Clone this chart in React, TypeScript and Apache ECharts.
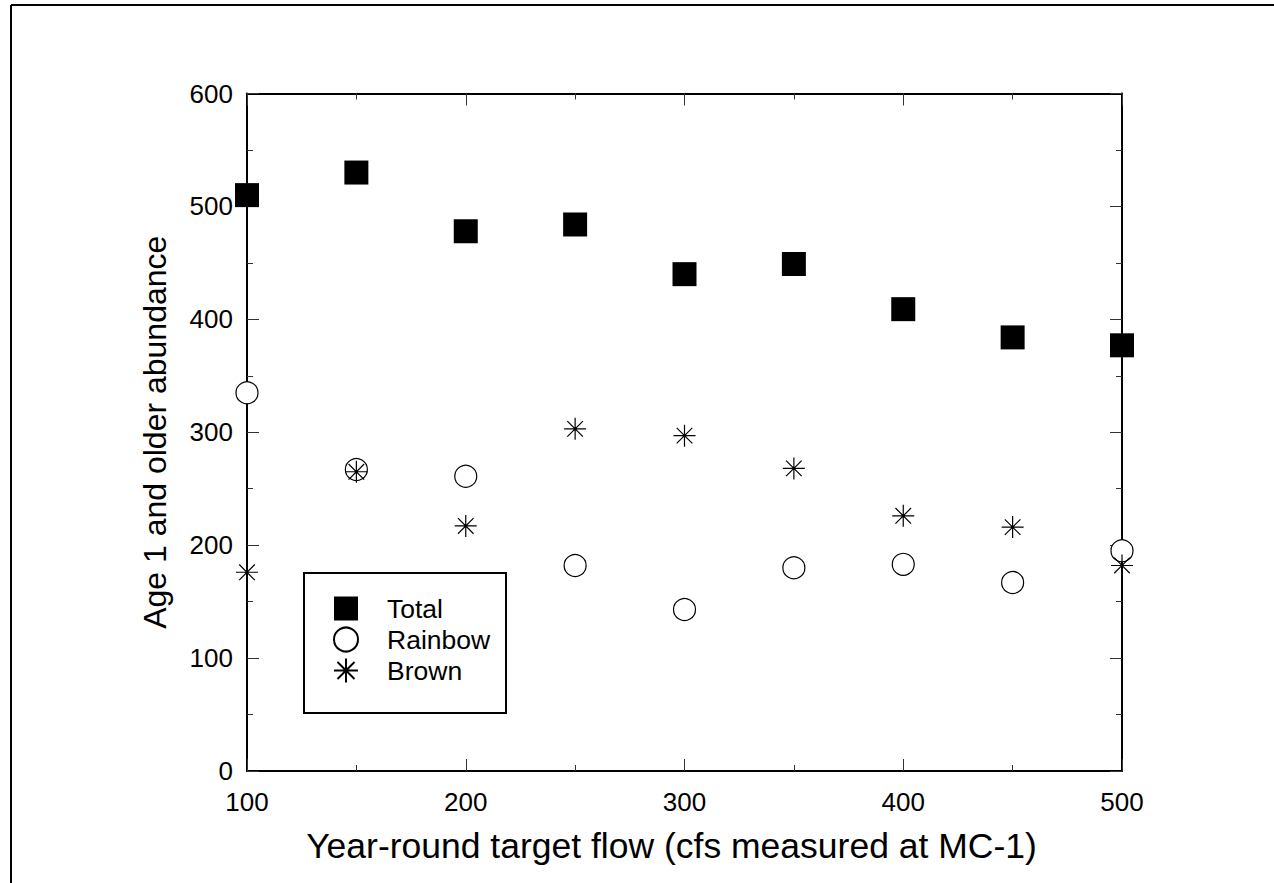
import React, { useEffect, useRef } from "react";
import * as echarts from "echarts";

const flows = [100, 150, 200, 250, 300, 350, 400, 450, 500];
const total = [510, 530, 478, 484, 440, 449, 409, 384, 377];
const rainbow = [335, 267, 261, 182, 143, 180, 183, 167, 195];
const brown = [176, 265, 217, 303, 297, 268, 226, 216, 182];
const seriesNames = ["Total", "Rainbow", "Brown"];
const xTitle = "Year-round target flow (cfs measured at MC-1)";
const yTitle = "Age 1 and older abundance";

const FONT = "'Liberation Sans', Arial, Helvetica, sans-serif";
const STAR = "path://M0,11 L22,11 M11,0 L11,22 M3.2,3.2 L18.8,18.8 M18.8,3.2 L3.2,18.8 M10,10 L12,10 L12,12 L10,12 Z";

const pairs = (ys: number[]) => flows.map((x, i) => [x, ys[i]]);

const axisBase = () => ({
  type: "value" as const,
  interval: 100,
  axisLine: { show: true, onZero: false, lineStyle: { color: "#000", width: 2 } },
  axisTick: { show: true, inside: true, length: 12, lineStyle: { color: "#333", width: 1 } },
  minorTick: { show: true, splitNumber: 2, length: 6, lineStyle: { color: "#333", width: 1 } },
  splitLine: { show: false },
  minorSplitLine: { show: false },
});

export default function App() {
  const ref = useRef<HTMLDivElement>(null);
  useEffect(() => {
    if (!ref.current) return;
    const chart = echarts.init(ref.current, null, { renderer: "svg" });
    chart.setOption({
      animation: false,
      backgroundColor: "#fff",
      grid: { left: 247, top: 93.5, right: 152, bottom: 112, containLabel: false },
      xAxis: [
        {
          ...axisBase(),
          min: 100,
          max: 500,
          position: "bottom",
          axisLabel: { color: "#000", fontSize: 26, fontFamily: FONT, margin: 18 },
          name: xTitle,
          nameLocation: "middle",
          nameGap: 57,
          nameTextStyle: { color: "#000", fontSize: 35.5, fontFamily: FONT, padding: [0, 26, 0, 0] },
        },
        {
          ...axisBase(),
          min: 100,
          max: 500,
          position: "top",
          axisLabel: { show: false },
        },
      ],
      yAxis: [
        {
          ...axisBase(),
          min: 0,
          max: 600,
          position: "left",
          axisLabel: { color: "#000", fontSize: 26, fontFamily: FONT, margin: 14 },
          name: yTitle,
          nameLocation: "middle",
          nameGap: 76,
          nameTextStyle: { color: "#000", fontSize: 32, fontFamily: FONT },
        },
        {
          ...axisBase(),
          min: 0,
          max: 600,
          position: "right",
          axisLabel: { show: false },
        },
      ],
      legend: {
        left: 333,
        top: 595,
        orient: "vertical",
        padding: 0,
        itemWidth: 24,
        itemHeight: 24,
        itemGap: 4,
        textStyle: {
          color: "#000",
          fontSize: 26.5,
          fontFamily: FONT,
          padding: [0, 0, 0, 24],
        },
        data: seriesNames,
      },
      graphic: [
        { type: "line", shape: { x1: 11, y1: 5, x2: 1274, y2: 5 }, style: { stroke: "#000", lineWidth: 2 } },
        { type: "line", shape: { x1: 11, y1: 5, x2: 11, y2: 883 }, style: { stroke: "#000", lineWidth: 2 } },
        { type: "rect", shape: { x: 304, y: 573, width: 202, height: 140 }, style: { fill: "none", stroke: "#000", lineWidth: 2 } },
      ],
      series: [
        {
          name: seriesNames[0],
          type: "scatter",
          data: pairs(total),
          symbol: "rect",
          symbolSize: 24,
          itemStyle: { color: "#000", opacity: 1 },
        },
        {
          name: seriesNames[1],
          type: "scatter",
          data: pairs(rainbow),
          symbol: "circle",
          symbolSize: 22,
          itemStyle: { color: "#fff", borderColor: "#000", borderWidth: 1.2, opacity: 1 },
        },
        {
          name: seriesNames[2],
          type: "scatter",
          data: pairs(brown),
          symbol: STAR,
          symbolSize: 22,
          itemStyle: { color: "#000", borderColor: "#000", borderWidth: 1.2, opacity: 1 },
        },
      ],
    });
    return () => chart.dispose();
  }, []);
  return (
    <div
      ref={ref}
      style={{ position: "fixed", left: 0, top: 0, width: 1274, height: 883, background: "#fff" }}
    />
  );
}
